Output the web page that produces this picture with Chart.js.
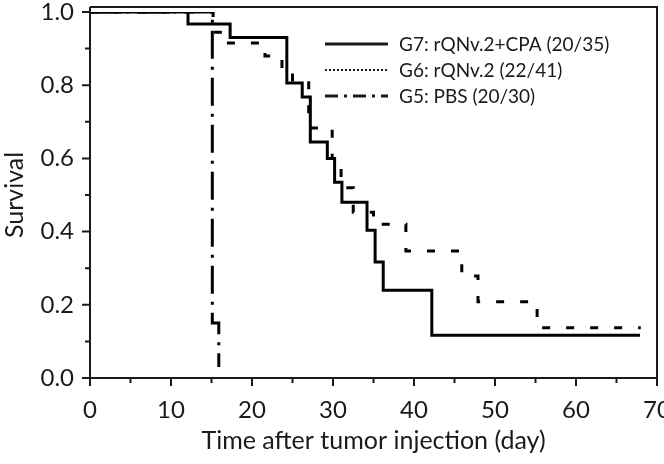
<!DOCTYPE html>
<html>
<head>
<meta charset="utf-8">
<script src="https://cdn.jsdelivr.net/npm/chart.js@4"></script>
<style>
  html, body { margin: 0; padding: 0; background: #fff; }
  #wrap { width: 664px; height: 464px; }
</style>
</head>
<body>
<div id="wrap"><canvas id="chart" width="664" height="464"></canvas></div>
<script>
// Kaplan-Meier steps: day of the drop and survival after it
const g7Days = [0, 12.1, 17.3, 24.3, 26.2, 27.2, 29.3, 30.2, 31.1, 34.2, 35.2, 36.2, 42.2, 67.9];
const g7Surv = [1.0, 0.967, 0.93, 0.806, 0.768, 0.645, 0.60, 0.535, 0.48, 0.404, 0.317, 0.24, 0.117, 0.117];

const g6Days = [0, 15.2, 16.6, 21.6, 23.7, 25.0, 27.0, 29.9, 31.0, 32.5, 35.0, 39.0, 45.9, 47.9, 55.2, 68.0];
const g6Surv = [1.0, 0.945, 0.915, 0.88, 0.84, 0.814, 0.683, 0.60, 0.52, 0.453, 0.42, 0.347, 0.279, 0.208, 0.137, 0.137];

const g5Days = [0, 15.1, 15.9];
const g5Surv = [1.0, 0.15, 0.03];

const xTicks = [0, 10, 20, 30, 40, 50, 60, 70];
const yTicks = [0.0, 0.2, 0.4, 0.6, 0.8, 1.0];

const legendLabels = ['G7: rQNv.2+CPA (20/35)', 'G6: rQNv.2 (22/41)', 'G5: PBS (20/30)'];
const xTitle = 'Time after tumor injection (day)';
const yTitle = 'Survival';

const FONT = 'Lato, "Open Sans", sans-serif';
const INK = '#1a1a1a';

function toPoints(days, surv) {
    return days.map((d, i) => ({ x: d, y: surv[i] }));
}

// frame, tick marks, axis titles and legend
const decorations = {
    id: 'decorations',
    afterDraw(chart) {
        const ctx = chart.ctx;
        const area = chart.chartArea;
        const xs = chart.scales.x;
        const ys = chart.scales.y;
        const top = area.top - 5;

        ctx.save();
        ctx.strokeStyle = INK;
        ctx.lineWidth = 2;
        ctx.beginPath();
        ctx.moveTo(area.left, top);
        ctx.lineTo(area.left, area.bottom);
        ctx.lineTo(area.right, area.bottom);
        ctx.moveTo(area.left, top);
        ctx.lineTo(area.right, top);
        ctx.lineTo(area.right, area.bottom);

        // x ticks: majors every 10, minors every 5
        for (let v = 0; v <= 70; v += 5) {
            const px = xs.getPixelForValue(v);
            const len = v % 10 === 0 ? 8 : 5;
            ctx.moveTo(px, area.bottom);
            ctx.lineTo(px, area.bottom + len);
        }
        // y ticks: majors every 0.2, minors every 0.1
        for (let i = 0; i <= 10; i++) {
            const py = ys.getPixelForValue(i / 10);
            const len = i % 2 === 0 ? 8 : 5;
            ctx.moveTo(area.left - len, py);
            ctx.lineTo(area.left, py);
        }
        ctx.stroke();

        // axis titles
        ctx.fillStyle = INK;
        ctx.font = '25px ' + FONT;
        ctx.textAlign = 'center';
        ctx.textBaseline = 'middle';
        ctx.fillText(xTitle, (area.left + area.right) / 2, 441);
        ctx.save();
        ctx.translate(15, (area.top + area.bottom) / 2);
        ctx.rotate(-Math.PI / 2);
        ctx.fillText(yTitle, 0, 0);
        ctx.restore();

        // legend
        const rows = [44, 70, 96];
        const styles = [
            { width: 3, dash: [] },
            { width: 2, dash: [2, 2] },
            { width: 3, dash: [13, 6, 3, 6] },
        ];
        ctx.font = '19px ' + FONT;
        ctx.textAlign = 'left';
        rows.forEach((y, i) => {
            ctx.beginPath();
            ctx.lineWidth = styles[i].width;
            ctx.setLineDash(styles[i].dash);
            ctx.moveTo(325, y);
            ctx.lineTo(388, y);
            ctx.stroke();
            ctx.setLineDash([]);
            ctx.fillText(legendLabels[i], 399, y + 1);
        });
        ctx.restore();
    }
};

const ctx = document.getElementById('chart').getContext('2d');
new Chart(ctx, {
    type: 'line',
    data: {
        datasets: [
            {
                label: 'G7',
                data: toPoints(g7Days, g7Surv),
                borderColor: '#000',
                borderWidth: 3,
                stepped: 'before',
                pointRadius: 0,
                fill: false,
            },
            {
                label: 'G6',
                data: toPoints(g6Days, g6Surv),
                borderColor: '#000',
                borderWidth: 3,
                borderDash: [8, 16],
                stepped: 'before',
                pointRadius: 0,
                fill: false,
            },
            {
                label: 'G5',
                data: toPoints(g5Days, g5Surv),
                borderColor: '#000',
                borderWidth: 3,
                borderDash: [28, 8, 3, 8],
                stepped: 'before',
                pointRadius: 0,
                fill: false,
            },
        ]
    },
    options: {
        responsive: false,
        animation: false,
        devicePixelRatio: 1,
        layout: { padding: { left: 0, right: 7, top: 12, bottom: 0 } },
        plugins: {
            legend: { display: false },
            tooltip: { enabled: false },
        },
        scales: {
            x: {
                type: 'linear',
                min: 0,
                max: 70,
                grid: { display: true, drawOnChartArea: false, drawTicks: true, tickLength: 8, tickColor: 'rgba(0,0,0,0)' },
                border: { display: false },
                afterBuildTicks: (scale) => { scale.ticks = xTicks.map(v => ({ value: v })); },
                ticks: {
                    color: INK,
                    padding: 10,
                    maxRotation: 0,
                    font: { family: FONT, size: 24 },
                },
                afterFit: (scale) => {
                    scale.height = 86;
                    scale.paddingLeft = 0;
                    scale.paddingRight = 0;
                },
            },
            y: {
                type: 'linear',
                min: 0,
                max: 1,
                grid: { display: true, drawOnChartArea: false, drawTicks: true, tickLength: 8, tickColor: 'rgba(0,0,0,0)' },
                border: { display: false },
                afterBuildTicks: (scale) => { scale.ticks = yTicks.map(v => ({ value: v })); },
                ticks: {
                    color: INK,
                    padding: 8,
                    font: { family: FONT, size: 24 },
                    callback: (v) => Number(v).toFixed(1),
                },
                afterFit: (scale) => {
                    scale.width = 90;
                    scale.paddingTop = 0;
                    scale.paddingBottom = 0;
                },
            },
        },
    },
    plugins: [decorations],
});
</script>
</body>
</html>
